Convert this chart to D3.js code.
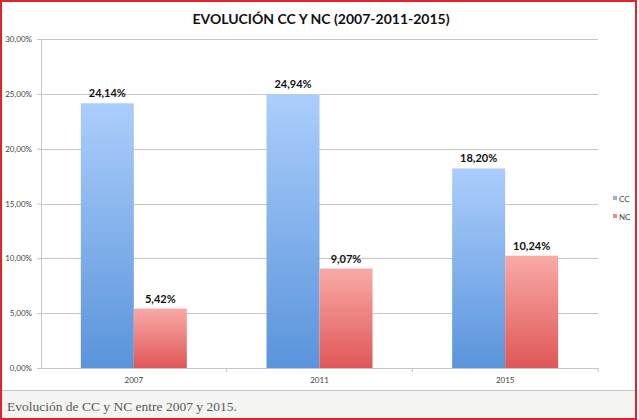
<!DOCTYPE html>
<html><head><meta charset="utf-8">
<script src="https://cdn.jsdelivr.net/npm/d3@7"></script>
<style>body{margin:0;background:#fff}svg{display:block}</style>
</head><body>
<script>
const categories = ["2007", "2011", "2015"];
const seriesNames = ["CC", "NC"];
const ccValues = [24.14, 24.94, 18.20];
const ncValues = [5.42, 9.07, 10.24];
const yTicks = [0, 5, 10, 15, 20, 25, 30];
const titleText = "EVOLUCIÓN CC Y NC (2007-2011-2015)";
const captionText = "Evolución de CC y NC entre 2007 y 2015.";

const W = 639, H = 420;
const svg = d3.select("body").append("svg").attr("width", W).attr("height", H);
const defs = svg.append("defs");
const gradCC = defs.append("linearGradient").attr("id", "gCC").attr("x1", 0).attr("y1", 0).attr("x2", 0).attr("y2", 1);
gradCC.append("stop").attr("offset", "0%").attr("stop-color", "#abcefc");
gradCC.append("stop").attr("offset", "100%").attr("stop-color", "#5a94db");
const gradNC = defs.append("linearGradient").attr("id", "gNC").attr("x1", 0).attr("y1", 0).attr("x2", 0).attr("y2", 1);
gradNC.append("stop").attr("offset", "0%").attr("stop-color", "#f9aaa6");
gradNC.append("stop").attr("offset", "100%").attr("stop-color", "#df5757");

// caption area
svg.append("rect").attr("x", 0).attr("y", 390).attr("width", W).attr("height", 30).attr("fill", "#f4f4f2");
svg.append("line").attr("x1", 0).attr("x2", 636).attr("y1", 390.5).attr("y2", 390.5).attr("stroke", "#c9c9c9");
svg.append("text").attr("x", 7).attr("y", 411).attr("font-family", "Liberation Serif, serif").attr("font-size", 13.5)
  .attr("fill", "#5a5a5a").text(captionText);

const m = {left: 41, right: 598, top: 39, bottom: 368};
const x = d3.scaleBand().domain(categories).range([m.left, m.right]);
const y = d3.scaleLinear().domain([0, 30]).range([m.bottom, m.top]);
const xs = d3.scaleBand().domain(seriesNames).range([0, 106]);

// gridlines
svg.append("g").selectAll("line").data(yTicks.filter(d => d > 0)).join("line")
  .attr("x1", m.left).attr("x2", m.right).attr("y1", d => Math.round(y(d)) + 0.5).attr("y2", d => Math.round(y(d)) + 0.5)
  .attr("stroke", "#c6c6c6").attr("stroke-width", 1.2);

// y axis
const yAxis = d3.axisLeft(y).tickValues(yTicks).tickSize(4).tickFormat(d => d.toFixed(2).replace(".", ",") + "%");
const gy = svg.append("g").attr("transform", `translate(${m.left},0)`).call(yAxis);
gy.select(".domain").attr("stroke", "#c6c6c6");
gy.selectAll(".tick line").attr("stroke", "#c6c6c6");
gy.selectAll("text").attr("font-family", "Lato, sans-serif").attr("font-size", 8).attr("fill", "#444").attr("dx", -2);

// x axis
const gx = svg.append("g").attr("transform", `translate(0,${m.bottom})`)
  .call(d3.axisBottom(x).tickSize(0).tickPadding(9));
gx.select(".domain").attr("stroke", "#c6c6c6");
gx.selectAll("text").attr("font-family", "Lato, sans-serif").attr("font-size", 8).attr("fill", "#444");
svg.append("g").selectAll("line").data(categories.slice(1).map(c => x(c)).concat([m.right])).join("line")
  .attr("x1", d => d).attr("x2", d => d).attr("y1", m.bottom).attr("y2", m.bottom + 4).attr("stroke", "#c6c6c6");

const rows = [];
categories.forEach((c, i) => {
  rows.push({cat: c, s: "CC", v: ccValues[i]});
  rows.push({cat: c, s: "NC", v: ncValues[i]});
});
const off = (x.bandwidth() - 106) / 2;
svg.append("g").selectAll("rect").data(rows).join("rect")
  .attr("x", d => x(d.cat) + off + xs(d.s)).attr("width", xs.bandwidth())
  .attr("y", d => y(d.v)).attr("height", d => y(0) - y(d.v))
  .attr("fill", d => d.s === "CC" ? "url(#gCC)" : "url(#gNC)");

svg.append("g").selectAll("text").data(rows).join("text")
  .attr("x", d => x(d.cat) + off + xs(d.s) + xs.bandwidth() / 2).attr("y", d => y(d.v) - 6)
  .attr("text-anchor", "middle").attr("font-family", "Lato, sans-serif").attr("font-weight", "bold")
  .attr("font-size", 11).attr("fill", "#111")
  .text(d => d.v.toFixed(2).replace(".", ",") + "%");

// title
svg.append("text").attr("x", 321).attr("y", 24).attr("text-anchor", "middle")
  .attr("font-family", "Lato, sans-serif").attr("font-weight", "bold").attr("font-size", 14).attr("fill", "#111")
  .text(titleText);

// legend
const lg = svg.append("g").selectAll("g").data(seriesNames).join("g")
  .attr("transform", (d, i) => `translate(613,${200 + i * 18})`);
lg.append("rect").attr("x", 0).attr("y", -4).attr("width", 4).attr("height", 4)
  .attr("fill", d => d === "CC" ? "#8fb4ea" : "#e98a8a");
lg.append("text").attr("x", 6).attr("y", 1.5).attr("font-family", "Lato, sans-serif").attr("font-size", 8).attr("fill", "#444").text(d => d);

// red border
svg.append("rect").attr("x", 1).attr("y", 1).attr("width", 635).attr("height", 418)
  .attr("fill", "none").attr("stroke", "#e0242a").attr("stroke-width", 2);
</script>
</body></html>
